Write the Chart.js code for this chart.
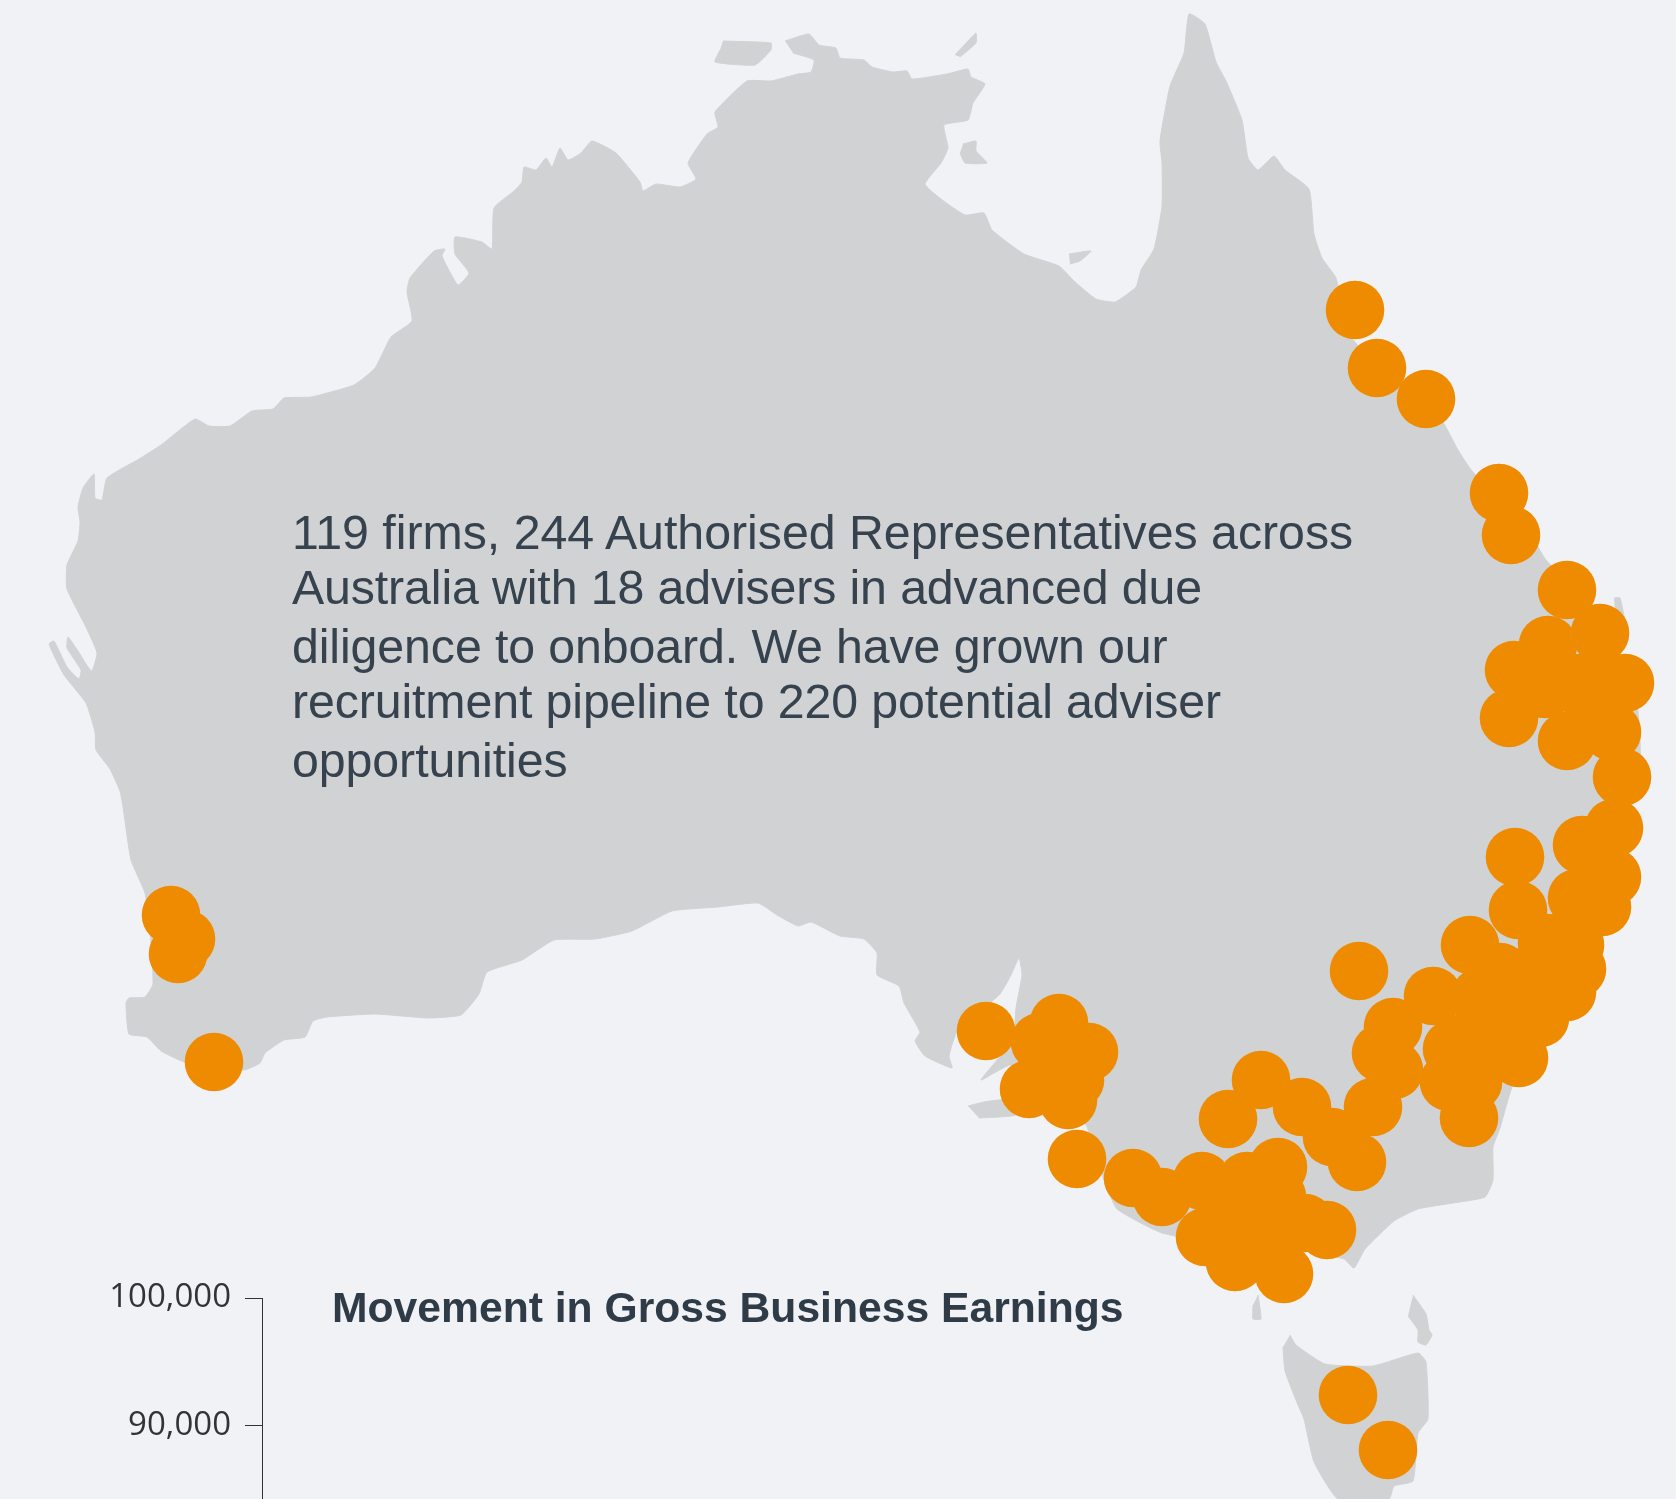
<!DOCTYPE html>
<html>
<head>
<meta charset="utf-8">
<title>Adviser footprint</title>
<script src="https://cdn.jsdelivr.net/npm/chart.js@4"></script>
<style>
  html, body { margin: 0; padding: 0; background: #f0f2f6; overflow: hidden; }
  #page { position: relative; width: 1676px; height: 1499px; overflow: hidden; }
  canvas { position: absolute; display: block; }
  #map-chart { left: 0; top: 0; }
  #earnings-chart { left: 0; top: 1268px; }
  .line { position: absolute; left: 292px; font: 48.3px/1 "Liberation Sans", Arial, sans-serif; color: #36424e; white-space: nowrap; }
  .heading { position: absolute; left: 332px; top: 1286px; font: bold 42.65px/1 "Liberation Sans", Arial, sans-serif; color: #2f3c48; white-space: nowrap; }
</style>
</head>
<body>
<div id="page">
  <canvas id="map-chart" width="1676" height="1499"></canvas>
  <canvas id="earnings-chart" width="300" height="231"></canvas>
  <div class="line" style="top:508px;letter-spacing:-0.02px">119 firms, 244 Authorised Representatives across</div>
  <div class="line" style="top:563px;letter-spacing:-0.13px">Australia with 18 advisers in advanced due</div>
  <div class="line" style="top:622px;letter-spacing:-0.11px">diligence to onboard. We have grown our</div>
  <div class="line" style="top:677px;letter-spacing:-0.12px">recruitment pipeline to 220 potential adviser</div>
  <div class="line" style="top:736px;letter-spacing:-0.08px">opportunities</div>
  <div class="heading">Movement in Gross Business Earnings</div>
</div>
<script>
const mainland = [
  [785,41],[809,34],[819,45],[836,48],[840,58],[864,60],[872,67],[893,72],[907,71],[912,79],[947,74],[968,69],[971,77],[985,84],
  [973,103],[968,120],[944,125],[948,148],[941,163],[925,184],[941,199],[965,215],[984,213],[992,230],[1024,254],[1059,266],
  [1075,282],[1096,299],[1115,302],[1136,287],[1141,270],[1154,249],[1162,206],[1162,163],[1160,141],[1170,86],[1184,53],[1189,14],
  [1205,24],[1216,62],[1226,81],[1242,120],[1248,158],[1258,170],[1274,156],[1285,170],[1309,189],[1314,234],[1322,258],[1336,278],
  [1349,335],[1400,385],[1442,421],[1458,450],[1472,471],[1528,531],[1546,560],[1575,590],[1600,630],[1635,690],[1640,760],[1610,880],
  [1580,960],[1540,1030],[1512,1087],[1500,1128],[1493,1147],[1493,1180],[1485,1197],[1453,1203],[1418,1209],[1394,1221],[1365,1249],
  [1354,1268],[1344,1259],[1300,1250],[1230,1245],[1162,1233],[1117,1209],[1104,1180],[1085,1123],[1040,1090],[1011,1065],[981,1080],
  [1013,1040],[1016,1008],[1022,975],[1019,958],[1011,975],[1000,994],[957,1032],[949,1056],[952,1068],[925,1056],[915,1041],[920,1032],
  [904,1003],[899,986],[877,975],[877,953],[864,939],[840,936],[811,922],[798,926],[777,915],[758,903],[718,907],[672,911],[632,931],
  [595,939],[554,940],[522,960],[487,972],[479,994],[461,1015],[428,1018],[375,1014],[327,1017],[313,1021],[305,1037],[284,1040],
  [265,1053],[260,1063],[244,1070],[187,1063],[161,1051],[147,1037],[129,1034],[126,1003],[129,998],[145,997],[153,984],[150,930],
  [145,893],[131,860],[123,807],[120,791],[110,769],[96,750],[95,732],[86,703],[64,675],[49,644],[54,641],[67,667],[79,679],[81,670],
  [67,648],[68,637],[78,651],[88,667],[92,671],[97,653],[86,627],[67,589],[67,565],[78,541],[80,522],[78,507],[83,488],[94,474],[95,498],
  [102,500],[107,478],[139,459],[161,445],[195,419],[209,426],[230,426],[252,411],[273,409],[284,398],[311,397],[354,385],[375,368],
  [391,337],[412,321],[407,292],[410,278],[434,251],[445,249],[442,256],[458,285],[469,273],[455,254],[455,237],[482,242],[492,249],
  [494,208],[514,191],[522,182],[524,167],[536,170],[546,158],[552,167],[560,148],[568,160],[581,153],[592,141],[616,153],[640,182],
  [643,191],[656,184],[680,187],[696,179],[688,163],[707,134],[718,127],[715,112],[747,81],[771,81],[798,74],[811,72],[814,60],[793,53]
];
const tasmania = [
  [1290,1335],[1296,1345],[1325,1364],[1373,1366],[1418,1353],[1426,1362],[1428,1419],[1418,1433],[1413,1481],[1394,1486],[1389,1499],
  [1338,1499],[1314,1462],[1304,1419],[1298,1405],[1285,1371],[1283,1347]
];
const tiwi = [[723,41],[771,43],[771,50],[755,65],[715,62],[720,50]];
const elcho = [[955,55],[968,41],[976,33],[976,43],[960,57]];
const groote = [[963,144],[976,141],[976,151],[987,163],[965,163],[960,153]];
const mornington = [[1069,254],[1091,251],[1080,261],[1070,264]];
const fraser = [[1614,598],[1620,598],[1625,625],[1616,625]];
const kangaroo = [[968,1106],[984,1102],[1005,1100],[1016,1115],[979,1118]];
const kingIsland = [[1258,1295],[1261,1319],[1253,1319],[1253,1305]];
const flinders = [[1413,1295],[1426,1314],[1429,1330],[1432,1335],[1426,1345],[1418,1342],[1418,1330],[1408,1316]];
const landParts = [mainland, tasmania, tiwi, elcho, groote, mornington, fraser, kangaroo, kingIsland, flinders];

const firmDots = [
  [1355,310],[1377,368],[1426,399],[1499,493],[1511,535],[1567,590],[1600,633],[1548,645],[1514,670],[1625,683],[1509,718],
  [1567,741],[1612,732],[1622,777],[1614,828],[1582,845],[1515,857],[1580,683],[1600,683],[1545,689],[1593,707],
  [1612,877],[1602,907],[1577,898],[1518,910],[1470,945],[1575,945],[1577,969],[1567,992],[1540,1018],[1519,1058],[1433,996],
  [1452,1049],[1449,1082],[1473,1082],[1469,1118],[1393,1027],[1381,1053],[1394,1070],[1373,1107],[1359,971],
  [1500,972],[1547,943],[1530,975],[1520,1003],[1480,997],[1497,1037],[1470,1040],[1500,1030],
  [1261,1080],[1228,1119],[1302,1107],[1332,1137],[1357,1162],
  [1077,1159],[1133,1178],[1162,1197],[1202,1181],[1247,1181],[1278,1167],[1205,1237],[1235,1262],[1284,1274],[1327,1230],[1305,1223],
  [1228,1226],[1287,1226],[1277,1197],[1230,1200],[1255,1197],[1257,1252],
  [986,1031],[1059,1023],[1040,1042],[1089,1052],[1029,1089],[1068,1100],[1075,1080],[1059,1061],
  [1348,1395],[1388,1450],[171,915],[186,939],[178,954],[214,1062]
];

const earningsTicks = [90000, 100000];
const earningsMin = 84190;
const earningsMax = 100000;

const toPoints = (list) => list.map(([x, y]) => ({ x, y }));

const mapDatasets = [{
  label: 'Firms',
  data: toPoints(firmDots),
  showLine: false,
  pointRadius: 29.3,
  pointBackgroundColor: '#ee8b00',
  pointBorderWidth: 0
}].concat(landParts.map((part, i) => ({
  label: 'Land ' + i,
  data: toPoints(part),
  showLine: true,
  fill: 'shape',
  tension: 0.15,
  backgroundColor: '#d1d2d4',
  borderColor: '#d1d2d4',
  borderWidth: 1,
  pointRadius: 0
})));

new Chart(document.getElementById('map-chart'), {
  type: 'scatter',
  data: { datasets: mapDatasets },
  options: {
    responsive: false,
    animation: false,
    layout: { padding: 0, autoPadding: false },
    plugins: { legend: { display: false }, tooltip: { enabled: false } },
    scales: {
      x: { type: 'linear', min: 0, max: 1676, display: false },
      y: { type: 'linear', min: 0, max: 1499, reverse: true, display: false }
    }
  }
});

new Chart(document.getElementById('earnings-chart'), {
  type: 'line',
  data: { labels: [], datasets: [] },
  options: {
    responsive: false,
    animation: false,
    layout: { padding: { top: 30, bottom: 0, left: 0, right: 0 }, autoPadding: false },
    plugins: { legend: { display: false }, tooltip: { enabled: false } },
    scales: {
      x: { display: false },
      y: {
        min: earningsMin,
        max: earningsMax,
        afterBuildTicks: (axis) => { axis.ticks = earningsTicks.map(value => ({ value })); },
        afterFit: (axis) => {
          axis.width = 262;
          // label padding would shrink the axis, it has to run off the bottom
          axis.paddingTop = 0;
          axis.paddingBottom = 0;
        },
        border: { color: '#333', width: 1 },
        grid: { drawOnChartArea: false, drawTicks: true, tickLength: 17, tickColor: '#333', tickWidth: 1 },
        ticks: {
          color: '#333',
          padding: 14,
          font: { family: "'Open Sans', sans-serif", size: 33 },
          callback: (value) => value.toLocaleString('en-US')
        }
      }
    }
  }
});
</script>
</body>
</html>
